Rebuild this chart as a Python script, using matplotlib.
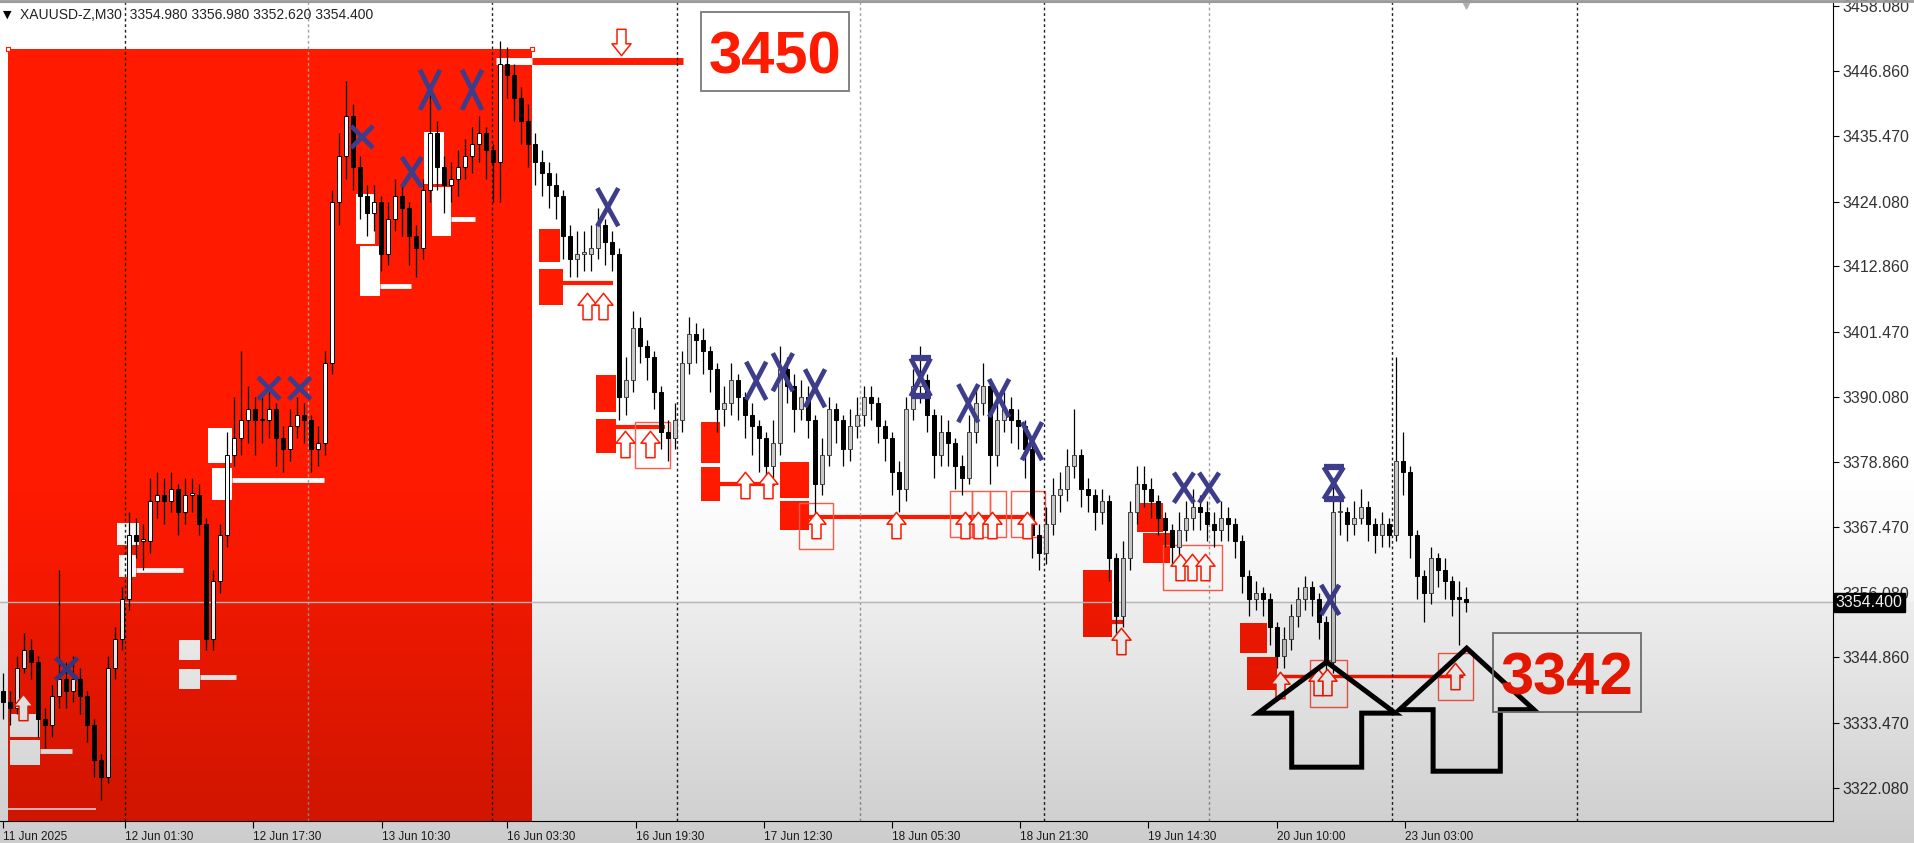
import numpy as np
import matplotlib
matplotlib.use("Agg")
import matplotlib.pyplot as plt
import matplotlib.transforms as mtransforms
from matplotlib.patches import Rectangle, Polygon
from matplotlib.path import Path
from matplotlib.lines import Line2D

plt.rcParams['font.family'] = ['Liberation Sans', 'DejaVu Sans']

# Velas XAUUSD M30 (cierre, maximo, minimo)
apertura_inicial = 3339
cierre = [
    3337, 3336, 3343, 3346, 3344, 3334, 3333, 3338, 3341, 3339,
    3341, 3338, 3333, 3327, 3324, 3343, 3348, 3355, 3366, 3365,
    3365, 3372, 3373, 3372, 3374, 3370, 3373, 3373, 3368, 3348,
    3358, 3366, 3380, 3383, 3386, 3388, 3386, 3386, 3388, 3383,
    3381, 3385, 3387, 3386, 3381, 3382, 3396, 3424, 3432, 3439,
    3430, 3425, 3422, 3424, 3415, 3421, 3425, 3423, 3418, 3416,
    3426, 3436, 3430, 3427, 3428, 3430, 3432, 3434, 3436, 3433,
    3431, 3448, 3446, 3442, 3438, 3434, 3431, 3429, 3427, 3425,
    3418, 3414, 3415, 3415, 3416, 3420, 3417, 3415, 3390, 3393,
    3402, 3399, 3397, 3391, 3384, 3383, 3386, 3396, 3401, 3400,
    3398, 3395, 3388, 3389, 3393, 3390, 3387, 3385, 3383, 3378,
    3382, 3395, 3392, 3388, 3390, 3386, 3375, 3380, 3388, 3386,
    3381, 3385, 3387, 3390, 3389, 3385, 3383, 3377, 3374, 3388,
    3392, 3393, 3387, 3380, 3384, 3382, 3378, 3376, 3384, 3389,
    3392, 3380, 3386, 3388, 3386, 3385, 3381, 3366, 3363, 3368,
    3373, 3374, 3378, 3380, 3374, 3373, 3370, 3372, 3362, 3352,
    3362, 3370, 3375, 3374, 3372, 3369, 3367, 3364, 3367, 3369,
    3371, 3370, 3368, 3367, 3369, 3368, 3365, 3359, 3355, 3356,
    3355, 3350, 3345, 3348, 3352, 3355, 3357, 3355, 3351, 3344,
    3370, 3370, 3368, 3369, 3371, 3368, 3366, 3368, 3366, 3379,
    3377, 3366, 3359, 3356, 3362, 3360, 3358, 3355, 3354.98, 3354.40,
]
maximo = [
    3342, 3339, 3345, 3349, 3348, 3345, 3336, 3340, 3360, 3344,
    3345, 3343, 3339, 3334, 3328, 3345, 3350, 3357, 3370, 3369,
    3368, 3376, 3377, 3376, 3377, 3375, 3376, 3376, 3375, 3369,
    3360, 3368, 3384, 3390, 3398, 3392, 3390, 3390, 3391, 3389,
    3385, 3388, 3390, 3389, 3387, 3385, 3398, 3426, 3436, 3445,
    3441, 3432, 3427, 3427, 3425, 3424, 3428, 3427, 3424, 3420,
    3428, 3443, 3438, 3432, 3431, 3433, 3435, 3437, 3439, 3437,
    3434, 3452, 3451, 3448, 3444, 3441, 3436, 3433, 3431, 3429,
    3426, 3420, 3419, 3419, 3420, 3423, 3421, 3419, 3416, 3397,
    3405, 3404, 3400, 3398, 3392, 3386, 3389, 3398, 3404, 3403,
    3402, 3399, 3396, 3392, 3396, 3394, 3391, 3389, 3386, 3384,
    3386, 3399, 3397, 3394, 3393, 3392, 3387, 3383, 3390, 3389,
    3387, 3388, 3390, 3392, 3392, 3390, 3386, 3384, 3379, 3390,
    3395, 3399, 3394, 3388, 3387, 3386, 3383, 3380, 3387, 3392,
    3396, 3393, 3389, 3391, 3390, 3388, 3386, 3382, 3368, 3371,
    3376, 3377, 3381, 3388, 3381, 3376, 3374, 3374, 3373, 3363,
    3365, 3372, 3378, 3378, 3376, 3373, 3370, 3368, 3370, 3372,
    3374, 3373, 3372, 3370, 3372, 3371, 3369, 3366, 3360, 3358,
    3357, 3356, 3351, 3350, 3354, 3357, 3359, 3358, 3356, 3352,
    3376, 3373, 3371, 3372, 3374, 3372, 3369, 3370, 3369, 3397,
    3384, 3378, 3367, 3360, 3364, 3363, 3362, 3359, 3358, 3356.98,
]
minimo = [
    3334, 3333, 3335, 3342, 3341, 3331, 3329, 3331, 3336, 3336,
    3337, 3335, 3330, 3324, 3320, 3323, 3341, 3346, 3353, 3362,
    3360, 3363, 3369, 3368, 3370, 3366, 3368, 3370, 3366, 3346,
    3346, 3356, 3364, 3378, 3380, 3382, 3380, 3382, 3383, 3378,
    3377, 3379, 3383, 3382, 3377, 3378, 3380, 3394, 3420, 3428,
    3426, 3421, 3418, 3419, 3412, 3413, 3419, 3418, 3413, 3411,
    3414, 3424, 3426, 3422, 3424, 3425, 3428, 3429, 3431, 3428,
    3424, 3424, 3442, 3438, 3434, 3430, 3427, 3425, 3423, 3421,
    3414, 3411, 3411, 3412, 3412, 3414, 3413, 3412, 3386, 3387,
    3391, 3396, 3393, 3388, 3381, 3379, 3381, 3384, 3394, 3396,
    3394, 3391, 3384, 3385, 3387, 3386, 3383, 3380, 3377, 3374,
    3376, 3380, 3389, 3384, 3386, 3383, 3369, 3373, 3378, 3382,
    3378, 3379, 3383, 3385, 3386, 3382, 3379, 3373, 3370, 3372,
    3386, 3389, 3384, 3376, 3378, 3378, 3374, 3373, 3375, 3382,
    3387, 3375, 3378, 3384, 3382, 3381, 3376, 3362, 3360, 3361,
    3366, 3370, 3372, 3376, 3371, 3370, 3367, 3368, 3358, 3349,
    3350, 3360, 3368, 3371, 3369, 3366, 3364, 3361, 3362, 3365,
    3367, 3367, 3365, 3364, 3365, 3365, 3362, 3356, 3352, 3353,
    3352, 3347, 3343, 3343, 3346, 3350, 3353, 3352, 3348, 3342,
    3342, 3366, 3365, 3366, 3368, 3365, 3363, 3364, 3364, 3365,
    3373, 3362, 3355, 3351, 3354, 3357, 3355, 3352, 3347, 3352.62,
]

# Ejes: precios y fechas
precios_eje = [3458.08, 3446.86, 3435.47, 3424.08, 3412.86, 3401.47, 3390.08,
               3378.86, 3367.47, 3356.08, 3344.86, 3333.47, 3322.08]
fechas = ["11 Jun 2025", "12 Jun 01:30", "12 Jun 17:30", "13 Jun 10:30", "16 Jun 03:30",
          "16 Jun 19:30", "17 Jun 12:30", "18 Jun 05:30", "18 Jun 21:30", "19 Jun 14:30",
          "20 Jun 10:00", "23 Jun 03:00"]
pos_fechas = [0, 17.4, 35.7, 54.1, 72.0, 90.4, 108.7, 127.0, 145.3, 163.6, 182.0, 200.3]
separadores = [17.4, 43.6, 69.9, 96.3, 122.4, 148.7, 172.3, 198.4, 224.9]
sep_negro = [True, False, True, True, False, True, False, True, True]

# Zonas del indicador (vela inicio, vela fin, precio arriba, precio abajo)
zona_grande = (0.7, 75.6, 3450.6)
zb_x0 = [1.0, 1.0, 16.3, 16.6, 25.1, 25.1, 29.3, 29.9, 50.4, 51.0, 60.1, 61.3]
zb_x1 = [5.3, 5.3, 19.4, 19.0, 28.1, 28.1, 32.7, 32.7, 53.1, 53.9, 63.0, 64.0]
zb_top = [3335.0, 3330.5, 3368.2, 3362.6, 3347.8, 3342.8, 3384.7, 3377.7, 3425.4, 3416.3, 3436.2, 3426.6]
zb_bot = [3331.0, 3326.0, 3364.3, 3358.8, 3344.3, 3339.3, 3378.6, 3372.2, 3416.7, 3407.7, 3427.1, 3418.1]
lb_x0 = [5.3, 19.0, 28.1, 32.7, 53.9, 64.0, -0.5, 70.4]
lb_x1 = [9.9, 25.7, 33.3, 45.9, 58.3, 67.4, 13.3, 75.6]
lb_p = [3328.5, 3360.0, 3341.4, 3375.6, 3409.4, 3421.0, 3318.4, 3448.5]
lb_lw = [3.5, 3.5, 3.5, 3.5, 3.5, 3.5, 1.2, 5]

zr_x0 = [76.6, 76.6, 84.7, 84.7, 99.7, 99.7, 111.0, 111.0, 154.3, 154.3, 162.0, 162.9, 176.7, 177.7]
zr_x1 = [79.6, 80.0, 87.6, 87.6, 102.4, 102.4, 115.1, 115.1, 158.4, 158.4, 165.7, 166.7, 180.6, 182.0]
zr_top = [3419.3, 3412.3, 3393.9, 3386.3, 3385.7, 3377.9, 3378.8, 3372.0, 3360.0, 3354.3, 3371.6, 3366.4, 3350.8, 3344.9]
zr_bot = [3413.6, 3406.1, 3387.5, 3380.3, 3378.6, 3372.0, 3372.5, 3367.0, 3354.4, 3348.3, 3366.6, 3361.2, 3345.6, 3339.1]
lr_x0 = [75.6, 80.0, 87.6, 102.4, 115.1, 158.4, 182.0]
lr_x1 = [97.1, 87.1, 94.6, 110.3, 146.7, 160.0, 208.6]
lr_p = [3448.5, 3409.9, 3384.9, 3374.9, 3369.2, 3350.9, 3341.6]
lr_lw = [5, 3, 3, 3, 3, 3, 2.5]

cr_x0 = [90.3, 113.7, 135.3, 138.4, 141.0, 144.0, 165.7, 186.7, 205.0]
cr_x1 = [95.3, 118.6, 138.4, 141.0, 143.3, 148.9, 174.1, 192.0, 210.0]
cr_top = [3385.7, 3371.6, 3373.7, 3373.7, 3373.7, 3373.7, 3364.3, 3344.3, 3345.5]
cr_bot = [3377.7, 3363.6, 3365.7, 3365.7, 3365.7, 3365.7, 3356.5, 3336.2, 3337.4]

# flechas pequeñas (vela, precio)
fl_x = [2.9, 83.4, 85.7, 88.9, 92.4, 106.0, 109.3, 116.1, 127.6, 137.4, 139.3, 141.3,
        146.3, 159.7, 168.1, 169.9, 171.7, 182.4, 187.9, 189.1, 207.4]
fl_p = [3336.1, 3405.9, 3405.9, 3381.9, 3381.9, 3374.8, 3374.8, 3367.8, 3367.8, 3367.8, 3367.8, 3367.8,
        3367.8, 3347.6, 3360.6, 3360.6, 3360.6, 3340.0, 3340.6, 3340.6, 3341.6]

# marcas X
xm_x = [9.1, 38.0, 42.4, 51.3, 58.4, 61.0, 67.0, 86.4, 107.6, 111.4, 116.0, 131.1,
        137.9, 142.3, 147.0, 168.7, 172.3, 190.1, 189.6]
xm_p = [3342.8, 3391.6, 3391.6, 3435.3, 3429.2, 3443.5, 3443.5, 3423.1, 3392.9, 3394.4, 3391.6, 3393.5,
        3389.0, 3389.9, 3382.4, 3374.3, 3374.3, 3375.1, 3354.8]
xm_alto = [22, 22, 22, 22, 30, 40, 40, 38, 38, 38, 38, 38, 38, 38, 38, 30, 30, 32, 30]
xm_ancho = [22, 22, 22, 22, 20, 20, 20, 21, 20, 20, 20, 20, 20, 20, 20, 20, 20, 20, 18]
xm_serif = [False] * 11 + [True] + [False] * 5 + [True, False]

# flechas grandes negras (vela, punta, base cabeza, fondo, semiancho cabeza, semiancho cuerpo)
fg_x = [189.1, 209.1]
fg_punta = [3344.0, 3346.4]
fg_base = [3335.1, 3335.7]
fg_fondo = [3325.7, 3325.0]
fg_hw = [9.8, 9.6]
fg_sw = [5.0, 4.8]

nivel_alto = (110.3, 3450.1, "3450")
nivel_bajo = (223.4, 3342.1, "3342")

ROJO = '#ff1a00'
AZUL = '#3d3d8c'
PX_P = 0.17391  # precio por pixel
PX_X = 7.0      # pixels por vela

fig = plt.figure(figsize=(19.15, 8.43), dpi=100)
fig.patch.set_facecolor('white')
ax = fig.add_axes([0, 22 / 843, 1833 / 1915, 819 / 843])
ax.set_xlim(-3 / 7, 1830 / 7)
ax.set_ylim(3316.34, 3458.78)
ax.set_facecolor('white')

# zona roja grande
ax.add_patch(Rectangle((zona_grande[0], 3300), zona_grande[1] - zona_grande[0], zona_grande[2] - 3300,
                       fc=ROJO, ec='none', zorder=1))
ax.scatter([zona_grande[0], zona_grande[1]], [zona_grande[2]] * 2, marker='s', s=10,
           fc='white', ec=ROJO, lw=0.8, zorder=5)

for x0, x1, t, b in zip(zb_x0, zb_x1, zb_top, zb_bot):
    ax.add_patch(Rectangle((x0, b), x1 - x0, t - b, fc='white', ec='none', zorder=2))
for x0, x1, p, lw in zip(lb_x0, lb_x1, lb_p, lb_lw):
    ax.plot([x0, x1], [p, p], color='white', lw=lw, solid_capstyle='butt', zorder=2)
for x0, x1, t, b in zip(zr_x0, zr_x1, zr_top, zr_bot):
    ax.add_patch(Rectangle((x0, b), x1 - x0, t - b, fc=ROJO, ec='none', zorder=2))
for x0, x1, p, lw in zip(lr_x0, lr_x1, lr_p, lr_lw):
    ax.plot([x0, x1], [p, p], color=ROJO, lw=lw, solid_capstyle='butt', zorder=2)
for x0, x1, t, b in zip(cr_x0, cr_x1, cr_top, cr_bot):
    ax.add_patch(Rectangle((x0, b), x1 - x0, t - b, fc='none', ec='#ff5a4a', lw=1, zorder=2))

# separadores de dias
for s, negro in zip(separadores, sep_negro):
    ax.axvline(s, color='#202020' if negro else '#a0a0a0', lw=1, ls=(0, (2, 2)), zorder=2.5)

# linea de precio actual
ax.axhline(cierre[-1], color='#c4c4c4', lw=1, zorder=2.5)

# velas
cierre = np.array(cierre)
maximo = np.array(maximo)
minimo = np.array(minimo)
apertura = np.r_[apertura_inicial, cierre[:-1]]
x = np.arange(len(cierre))
sube = cierre >= apertura
en_rojo = x < zona_grande[1]
cuerpo_bajo = np.minimum(apertura, cierre)
cuerpo_alto = np.maximum(np.abs(cierre - apertura), 0.3)
ax.vlines(x, minimo, maximo, color='black', lw=0.9, zorder=3)
m = sube & en_rojo
ax.bar(x[m], cuerpo_alto[m], bottom=cuerpo_bajo[m], width=0.55,
       color='white', edgecolor='black', lw=0.7, zorder=3.1)
m = sube & ~en_rojo
ax.bar(x[m], cuerpo_alto[m], bottom=cuerpo_bajo[m], width=0.55,
       color='#c8c8c8', edgecolor='#404040', lw=0.7, zorder=3.1)
ax.bar(x[~sube], cuerpo_alto[~sube], bottom=cuerpo_bajo[~sube], width=0.55,
       color='black', edgecolor='black', lw=0.7, zorder=3.1)

# flechas pequeñas
vert = [(0, 1), (0.72, 0.1), (0.34, 0.1), (0.34, -1), (-0.34, -1), (-0.34, 0.1), (-0.72, 0.1), (0, 1)]
flecha = Path(vert, closed=True)
ax.scatter(fl_x, fl_p, marker=flecha, s=19 ** 2, fc='white', ec=ROJO, lw=1.1, zorder=4)
flecha_abajo = Path([(a, -b) for a, b in vert], closed=True)
ax.scatter([88.3], [3451.75], marker=flecha_abajo, s=19 ** 2, fc='white', ec=ROJO, lw=1.1, zorder=4)

# marcas X
for xc, p, h, w, serif in zip(xm_x, xm_p, xm_alto, xm_ancho, xm_serif):
    hh = h / 2 * PX_P
    hw = w / 2 / PX_X
    ax.plot([xc - hw, xc + hw], [p - hh, p + hh], color=AZUL, lw=3.4, solid_capstyle='butt', zorder=5)
    ax.plot([xc - hw, xc + hw], [p + hh, p - hh], color=AZUL, lw=3.4, solid_capstyle='butt', zorder=5)
    if serif:
        for yy in (p + hh, p - hh):
            ax.plot([xc - hw, xc + hw], [yy, yy], color=AZUL, lw=4.5, solid_capstyle='butt', zorder=5)

# flechas grandes
for xc, tp, bs, fd, hw, sw in zip(fg_x, fg_punta, fg_base, fg_fondo, fg_hw, fg_sw):
    pts = [(xc, tp), (xc + hw, bs), (xc + sw, bs), (xc + sw, fd), (xc - sw, fd), (xc - sw, bs), (xc - hw, bs)]
    ax.add_patch(Polygon(pts, closed=True, fill=False, ec='black', lw=3.6, joinstyle='miter', zorder=6))

# cajas de niveles
for (xc, p, txt) in (nivel_alto, nivel_bajo):
    ax.add_patch(Rectangle((xc - 10.6, p - 6.8), 21.2, 13.7, fc='none', ec='#7a7a7a', lw=1.3, zorder=6))
    ax.text(xc, p, txt, color=ROJO, fontsize=43, fontweight='bold', ha='center', va='center_baseline', zorder=7)

# ejes
ax.yaxis.tick_right()
ax.set_yticks(precios_eje)
ax.set_yticklabels([f"{p:.3f}" for p in precios_eje])
ax.tick_params(axis='y', direction='out', length=4, width=0.8, pad=3, labelsize=11.5, labelcolor='#333333')
ax.set_xticks(pos_fechas)
ax.set_xticklabels(fechas)
for lbl in ax.get_xticklabels():
    lbl.set_horizontalalignment('left')
ax.tick_params(axis='x', direction='out', length=5, width=0.8, pad=2, labelsize=8.5, labelcolor='#222222')
ax.spines['left'].set_visible(False)
ax.spines['top'].set_color('#9a9a9a')
ax.spines['right'].set_color('black')
ax.spines['bottom'].set_color('black')

trans = mtransforms.blended_transform_factory(ax.transAxes, ax.transData)
ax.text(1.0015, cierre[-1], f"{cierre[-1]:.3f}", transform=trans, ha='left', va='center',
        color='white', fontsize=11.5, clip_on=False, zorder=10,
        bbox=dict(boxstyle='square,pad=0.12', fc='black', ec='black'))
ax.scatter([209], [3458.6], marker='v', s=60, color='#b0b0b0', clip_on=False, zorder=5)

# cabecera
fig.text(3 / 1915, 1 - 15 / 843, "\u25bc", fontsize=8, family='DejaVu Sans', va='center', color='black')
fig.text(20 / 1915, 1 - 15 / 843,
         f"XAUUSD-Z,M30  {apertura[-1]:.3f} {maximo[-1]:.3f} {minimo[-1]:.3f} {cierre[-1]:.3f}",
         fontsize=10, va='center', color='#222222')
fig.add_artist(Line2D([0, 1], [1 - 1 / 843, 1 - 1 / 843], color='#9a9a9a', lw=2))

# sombreado gris de la captura (parte baja)
ov = fig.add_axes([0, 0, 1, 1], zorder=20)
ov.axis('off')
ov.patch.set_visible(False)
filas = np.arange(843)
alfa = np.interp(filas, [0, 470, 600, 601, 843], [0, 0, 0.05, 0.07, 0.2])
img = np.zeros((843, 1, 4))
img[:, 0, 3] = alfa
ov.imshow(img, aspect='auto', extent=[0, 1, 0, 1], interpolation='bilinear')
ov.set_xlim(0, 1)
ov.set_ylim(0, 1)

fig.savefig("out.png", dpi=100)
